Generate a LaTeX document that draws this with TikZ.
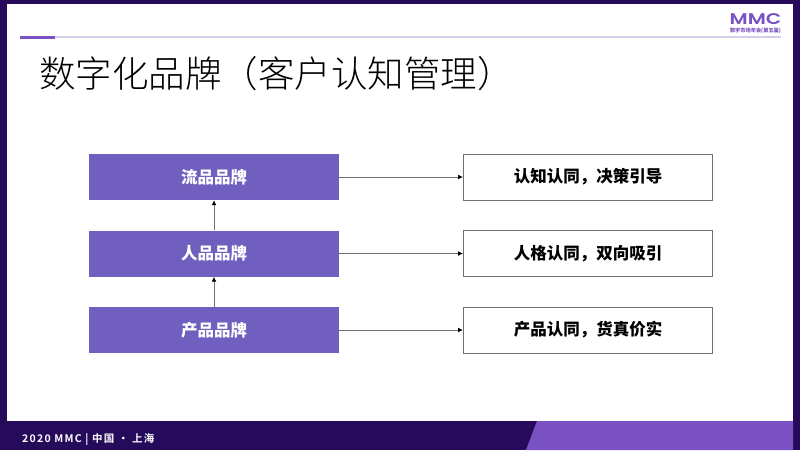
\documentclass[tikz,border=0pt]{standalone}
\usepackage{fontspec}
\usetikzlibrary{arrows.meta,calc}
\setmainfont{Noto Sans CJK SC}
\newfontfamily\titlefont[UprightFont=* Light]{Noto Sans CJK SC}
\newfontfamily\footfont[LetterSpace=12]{Noto Sans CJK SC Bold}
\newfontfamily\logofont[FakeStretch=1.3]{Poppins SemiBold}
\definecolor{framedark}{HTML}{260B5B}
\definecolor{barpurple}{HTML}{7951C2}
\definecolor{boxpurple}{HTML}{705FBE}
\definecolor{rulelight}{HTML}{D5CFE6}
\definecolor{linegray}{HTML}{707070}
\tikzstyle{brandbox}=[rectangle,fill=boxpurple,text=white,minimum width=250pt,minimum height=46pt,inner sep=0pt,font=\fontsize{16.5}{16.5}\selectfont\bfseries]
\tikzstyle{claimbox}=[rectangle,fill=white,draw=linegray,line width=1pt,minimum width=249pt,minimum height=46pt,inner sep=0pt,font=\fontsize{16.5}{16.5}\selectfont\bfseries]
\tikzstyle{edge} = [draw=linegray,line width=1pt,-{Latex[black,length=5pt,width=5pt]}]

\begin{document}
\begin{tikzpicture}[x=1pt,y=-1pt]

    % frame and footer
    \fill[framedark] (0,0) rectangle (800,450);
    \fill[white] (7,4) rectangle (793,421);
    \fill[barpurple] (526,450) -- (537,421) -- (793,421) -- (793,450) -- cycle;
    \fill[rulelight] (20,36) rectangle (781,38);
    \fill[barpurple] (20,35.5) rectangle (55,38.5);

    \node[anchor=west,inner sep=0pt,font=\fontsize{36.5}{36.5}\titlefont] (title) at (39,74) {数字化品牌^^^^ff08客户认知管理^^^^ff09};
    \node[anchor=west,inner sep=0pt,text=white,font=\fontsize{10.5}{10.5}\footfont] (foot) at (22,439.5) {2020 MMC | 中国 · 上海};

    \node[inner sep=0pt,text=barpurple,font=\fontsize{15.5}{15.5}\logofont] (logo) at (755.5,19.5) {MMC};
    \node[inner sep=0pt,text=barpurple,font=\fontsize{5.2}{5.2}\bfseries] (logosub) at (755.5,31) {数字市场年会(第五届)};

    % boxes
    \foreach \pos/ \name/ \txt in {{(214,177)/liu/流品品牌},{(214,253.5)/ren/人品品牌},{(214,330)/chan/产品品牌}}
        \node[brandbox] (\name) at \pos {\txt};
    \foreach \pos/ \name/ \txt in {{(588,177)/liuc/认知认同^^^^ff0c决策引导},{(588,253.5)/renc/人格认同^^^^ff0c双向吸引},{(588,330)/chanc/产品认同^^^^ff0c货真价实}}
        \node[claimbox] (\name) at \pos {\txt};

    % connect boxes
    \foreach \source/ \dest in {liu/liuc,ren/renc,chan/chanc,ren/liu,chan/ren}
        \path[edge] (\source) -- (\dest);
\end{tikzpicture}
\end{document}
